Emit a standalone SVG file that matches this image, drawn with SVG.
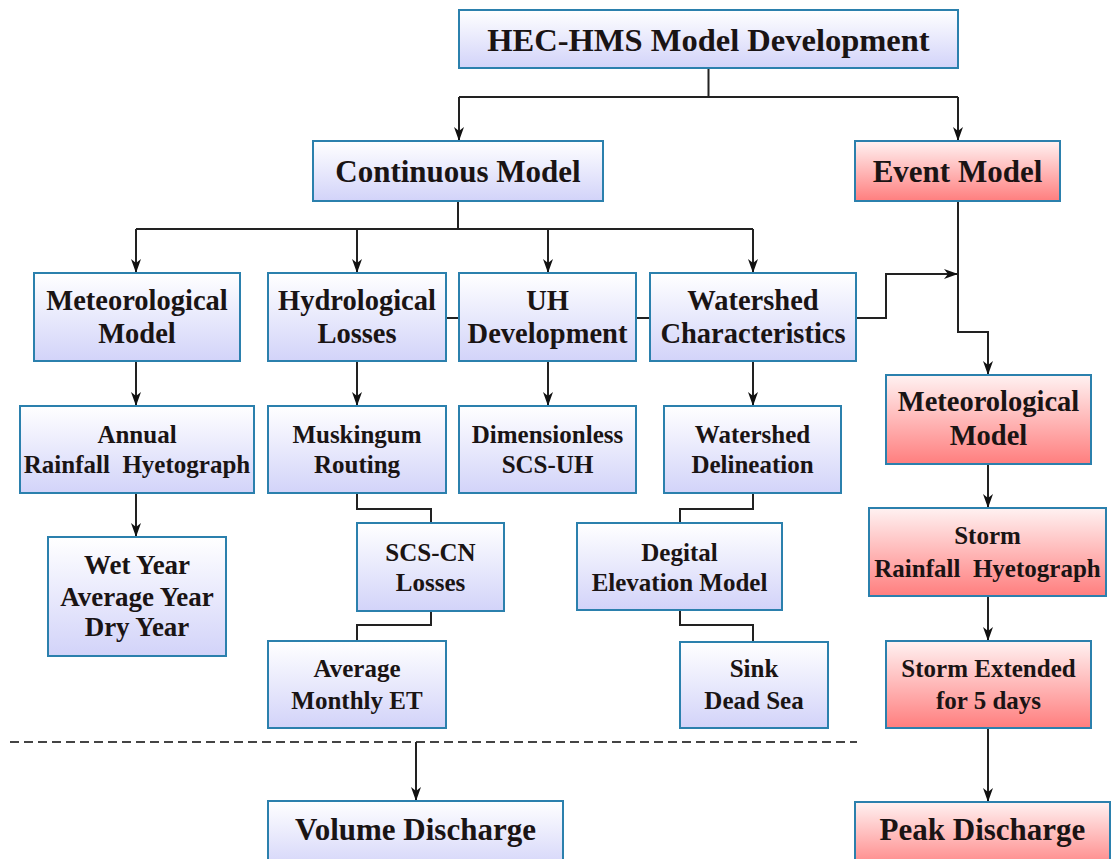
<svg xmlns="http://www.w3.org/2000/svg" width="1113" height="859" viewBox="0 0 1113 859">
<defs>
<linearGradient id="gb" x1="0" y1="0" x2="0" y2="1"><stop offset="0" stop-color="#ffffff"/><stop offset="1" stop-color="#d2d3f9"/></linearGradient>
<linearGradient id="gr" x1="0" y1="0" x2="0" y2="1"><stop offset="0" stop-color="#fff2f2"/><stop offset="1" stop-color="#ff7e7e"/></linearGradient>
<marker id="ah" markerUnits="userSpaceOnUse" markerWidth="16" markerHeight="12" viewBox="-15 -6 16 12" refX="0" refY="0" orient="auto">
<path d="M0,0 L-14,-5 L-10,0 L-14,5 Z" fill="#111"/>
</marker>
<style>
.b{fill:url(#gb);stroke:#2b80ad;stroke-width:2}
.r{fill:url(#gr);stroke:#2b80ad;stroke-width:2}
text{font-weight:bold;fill:#1a1414;text-anchor:middle}
.t1{font-size:32.5px}
.t2{font-size:31px}
.t3{font-size:28.5px}
.t4{font-size:25px}
.t5{font-size:27px}
.c{fill:none;stroke:#222;stroke-width:2}
.a{marker-end:url(#ah)}
.d{fill:none;stroke:#444;stroke-width:2;stroke-dasharray:9 5}
</style>
</defs>
<g id="connectors">
<path class="c" d="M708.5,69 V97 M459,97 H958"/>
<path class="c a" d="M459,97 V141"/>
<path class="c a" d="M958,97 V141"/>
<path class="c" d="M458,201 V229 M136,229 H753"/>
<path class="c a" d="M136,229 V273"/>
<path class="c a" d="M357,229 V273"/>
<path class="c a" d="M548,229 V273"/>
<path class="c a" d="M753,229 V273"/>
<path class="c a" d="M136,361 V406"/>
<path class="c a" d="M357,361 V406"/>
<path class="c a" d="M548,361 V406"/>
<path class="c a" d="M753,361 V406"/>
<path class="c a" d="M136,493 V537"/>
<path class="c" d="M357,493 V509 H431 V523"/>
<path class="c" d="M431,611 V625 H357 V641"/>
<path class="c" d="M753,493 V509 H680 V523"/>
<path class="c" d="M680,610 V625 H753 V642"/>
<path class="c a" d="M446,318 H886 V274 H958"/>
<path class="c a" d="M958,201 V332 H988 V375"/>
<path class="c a" d="M988,464 V508"/>
<path class="c a" d="M988,596 V641"/>
<path class="c a" d="M988,728 V802"/>
<path class="d" d="M10,742 H857"/>
<path class="c a" d="M416,742 V801"/>
</g>
<g font-family="'Liberation Serif', 'Times New Roman', Tinos, 'DejaVu Serif', serif">
<g id="hec"><rect class="b" x="459" y="10" width="499" height="58"/><text class="t1" x="708.5" y="51">HEC-HMS Model Development</text></g>
<g id="continuous"><rect class="b" x="313" y="141" width="290" height="60"/><text class="t2" x="458" y="182">Continuous Model</text></g>
<g id="event"><rect class="r" x="855" y="141" width="205" height="60"/><text class="t2" x="957.5" y="182">Event Model</text></g>
<g id="met1"><rect class="b" x="34" y="273" width="206" height="88"/><text class="t3" x="137" y="310">Meteorological</text><text class="t3" x="137" y="343">Model</text></g>
<g id="hydro"><rect class="b" x="268" y="273" width="178" height="88"/><text class="t3" x="357" y="310">Hydrological</text><text class="t3" x="357" y="343">Losses</text></g>
<g id="uh"><rect class="b" x="459" y="273" width="177" height="88"/><text class="t3" x="547.5" y="310">UH</text><text class="t3" x="547.5" y="343">Development</text></g>
<g id="wc"><rect class="b" x="650" y="273" width="206" height="88"/><text class="t3" x="753" y="310">Watershed</text><text class="t3" x="753" y="343">Characteristics</text></g>
<g id="annual"><rect class="b" x="20" y="406" width="234" height="87"/><text class="t4" x="137" y="443">Annual</text><text class="t4" x="137" y="473" xml:space="preserve">Rainfall  Hyetograph</text></g>
<g id="musk"><rect class="b" x="268" y="406" width="178" height="87"/><text class="t4" x="357" y="443">Muskingum</text><text class="t4" x="357" y="473">Routing</text></g>
<g id="dimless"><rect class="b" x="459" y="406" width="177" height="87"/><text class="t4" x="547.5" y="443">Dimensionless</text><text class="t4" x="547.5" y="473">SCS-UH</text></g>
<g id="wd"><rect class="b" x="664" y="406" width="177" height="87"/><text class="t4" x="752.5" y="443">Watershed</text><text class="t4" x="752.5" y="473">Delineation</text></g>
<g id="years"><rect class="b" x="48" y="537" width="178" height="119"/><text class="t5" x="137" y="574">Wet Year</text><text class="t5" x="137" y="606">Average Year</text><text class="t5" x="137" y="636">Dry Year</text></g>
<g id="scscn"><rect class="b" x="357" y="523" width="147" height="88"/><text class="t4" x="430.5" y="561">SCS-CN</text><text class="t4" x="430.5" y="591">Losses</text></g>
<g id="dem"><rect class="b" x="577" y="523" width="205" height="87"/><text class="t4" x="679.5" y="561">Degital</text><text class="t4" x="679.5" y="591">Elevation Model</text></g>
<g id="et"><rect class="b" x="268" y="641" width="178" height="87"/><text class="t4" x="357" y="677">Average</text><text class="t4" x="357" y="709">Monthly ET</text></g>
<g id="sink"><rect class="b" x="680" y="642" width="148" height="86"/><text class="t4" x="754" y="677">Sink</text><text class="t4" x="754" y="709">Dead Sea</text></g>
<g id="volume"><rect class="b" x="268" y="801" width="295" height="70"/><text class="t2" x="415.5" y="840">Volume Discharge</text></g>
<g id="met2"><rect class="r" x="886" y="375" width="205" height="89"/><text class="t3" x="988.5" y="411">Meteorological</text><text class="t3" x="988.5" y="445">Model</text></g>
<g id="storm"><rect class="r" x="869" y="508" width="237" height="88"/><text class="t4" x="987.5" y="544">Storm</text><text class="t4" x="987.5" y="577" xml:space="preserve">Rainfall  Hyetograph</text></g>
<g id="extended"><rect class="r" x="886" y="641" width="205" height="87"/><text class="t4" x="988.5" y="677">Storm Extended</text><text class="t4" x="988.5" y="709">for 5 days</text></g>
<g id="peak"><rect class="r" x="855" y="802" width="255" height="70"/><text class="t2" x="982.5" y="840">Peak Discharge</text></g>
</g>
</svg>
